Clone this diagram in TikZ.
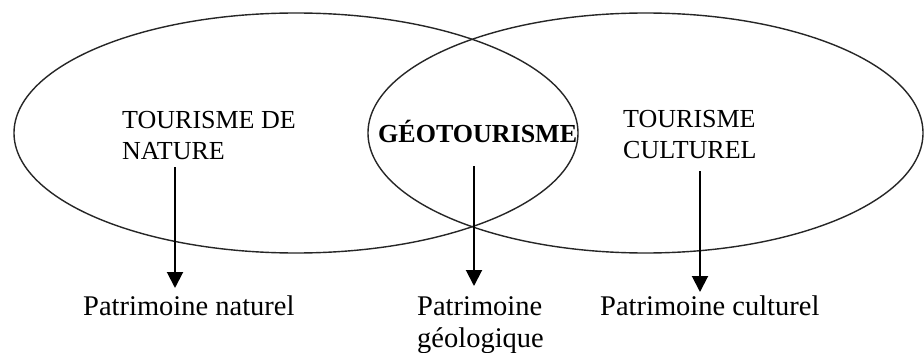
\documentclass[tikz,border=0pt]{standalone}
\usepackage{fontspec}
\setmainfont{Liberation Serif}
\usetikzlibrary{arrows.meta}
\begin{document}
\begin{tikzpicture}[x=1pt,y=-1pt,
  ell/.style={draw=black!85,line width=1.4pt},
  toplabel/.style={inner sep=0pt,anchor=base west,align=left,font=\fontsize{26}{31}\selectfont},
  botlabel/.style={inner sep=0pt,anchor=base west,align=left,font=\fontsize{28.5}{32}\selectfont},
  arr/.style={line width=2pt,-{Triangle[length=16pt,width=16pt]}}]
\useasboundingbox[fill=white] (0,0) rectangle (924,353);
\draw[ell] (296,133) ellipse [x radius=282,y radius=120];
\draw[ell] (645.5,133) ellipse [x radius=277.5,y radius=120];
\node[toplabel] (tn) at (122,159) {TOURISME DE\\NATURE};
\node[toplabel,font=\fontsize{26}{31}\selectfont\bfseries] (geo) at (378,142) {GÉOTOURISME};
\node[toplabel] (tc) at (623,158) {TOURISME\\CULTUREL};
\node[botlabel] (pn) at (83,315) {Patrimoine naturel};
\node[botlabel] (pg) at (417,347) {Patrimoine\\géologique};
\node[botlabel] (pc) at (600,315) {Patrimoine culturel};
\coordinate (s1) at (175,167);
\coordinate (s2) at (474,166);
\coordinate (s3) at (700,171);
\coordinate (e1) at (175,288);
\coordinate (e2) at (474,286);
\coordinate (e3) at (700,292);
\draw[arr] (s1) -- (e1);
\draw[arr] (s2) -- (e2);
\draw[arr] (s3) -- (e3);
\end{tikzpicture}
\end{document}
